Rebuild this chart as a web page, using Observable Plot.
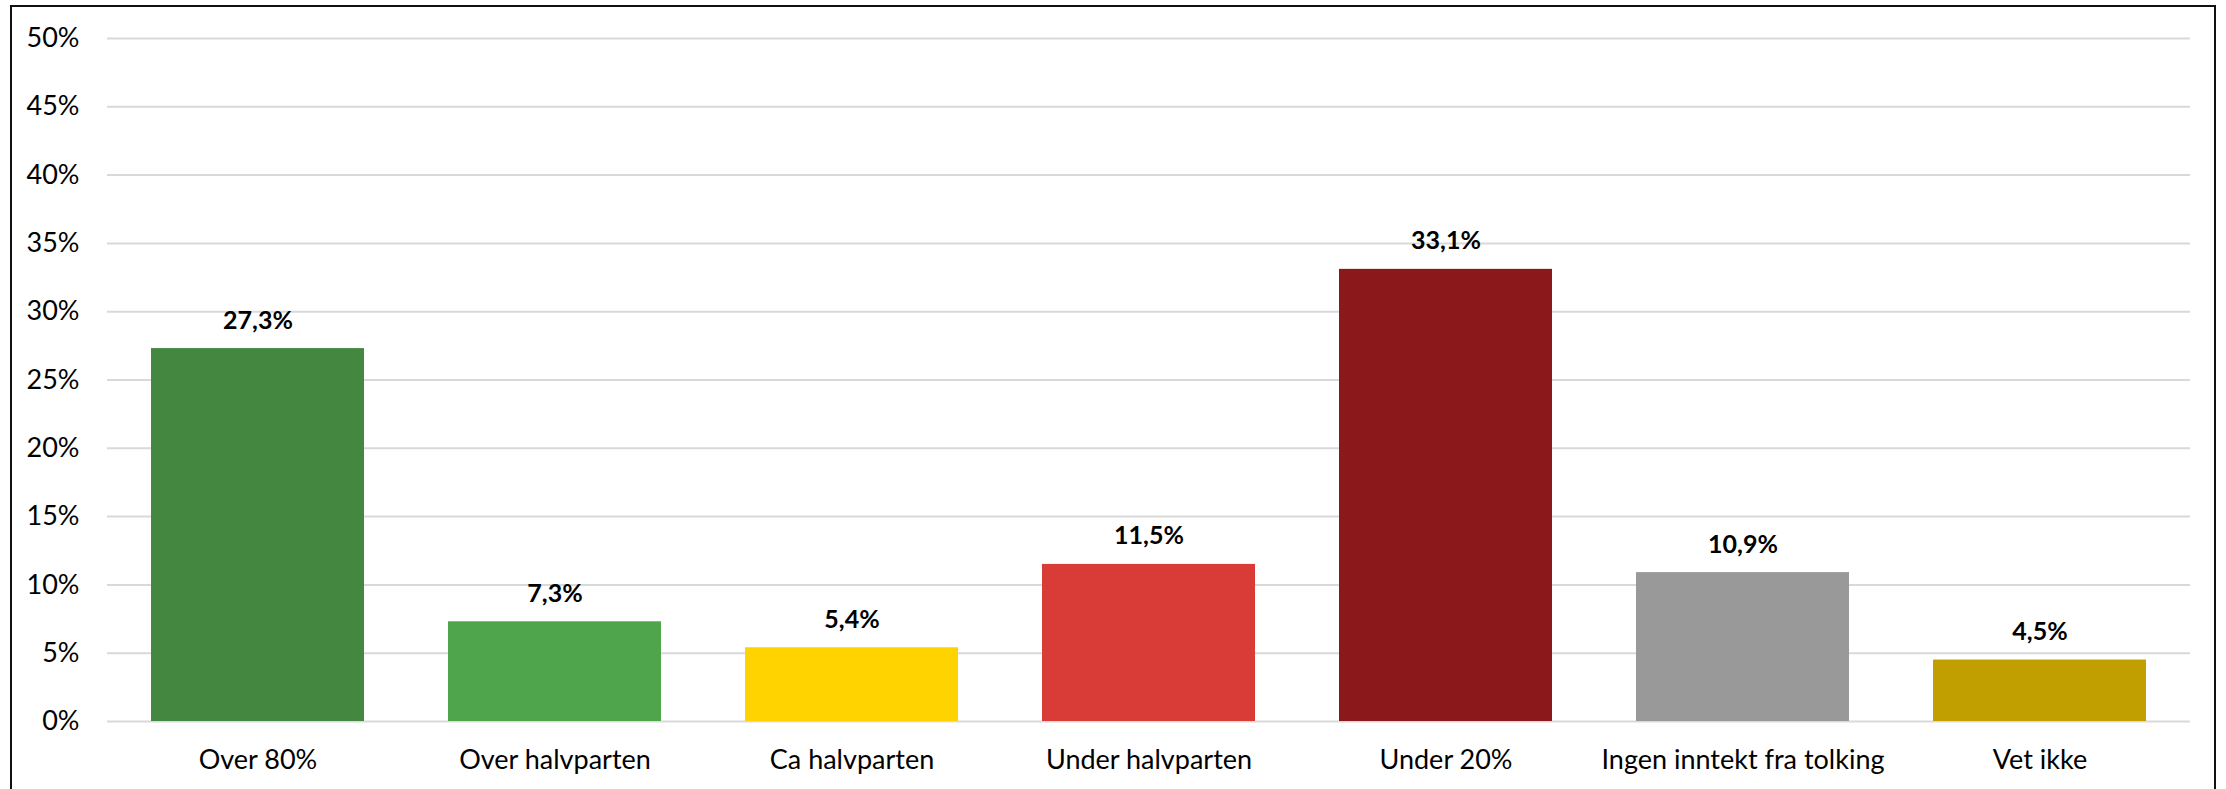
<!DOCTYPE html>
<html>
<head>
<meta charset="utf-8">
<script src="https://cdn.jsdelivr.net/npm/d3@7"></script>
<script src="https://cdn.jsdelivr.net/npm/@observablehq/plot@0.6"></script>
<style>
  html, body { margin: 0; padding: 0; background: #fff; }
  #wrap { position: relative; width: 2226px; height: 789px; overflow: hidden; }
  #frame { position: absolute; left: 10px; top: 5px; width: 2206px; height: 800px; border: 2px solid #111; box-sizing: border-box; pointer-events: none; }
  svg { display: block; }
</style>
</head>
<body>
<div id="wrap"><div id="frame"></div></div>
<script>
const categories = ["Over 80%", "Over halvparten", "Ca halvparten", "Under halvparten", "Under 20%", "Ingen inntekt fra tolking", "Vet ikke"];
const values = [27.3, 7.3, 5.4, 11.5, 33.1, 10.9, 4.5];
const colors = ["#438741", "#4EA54C", "#FFD300", "#D93B36", "#8B181A", "#999999", "#C19F00"];
const yTicks = [0, 5, 10, 15, 20, 25, 30, 35, 40, 45, 50];

const data = categories.map((c, i) => ({category: c, value: values[i], color: colors[i]}));
const fmt = v => v.toFixed(1).replace(".", ",") + "%";

const chart = Plot.plot({
  width: 2226,
  height: 789,
  marginLeft: 107,
  marginRight: 36,
  marginTop: 38,
  marginBottom: 68,
  style: {fontFamily: "Lato, 'Open Sans', sans-serif", fontSize: "27px", color: "#000", background: "transparent"},
  x: {domain: categories, paddingInner: 0.284, paddingOuter: 0.142, label: null, tickSize: 0, tickPadding: 28},
  y: {domain: [0, 50], ticks: yTicks, tickFormat: d => d + "%", label: null, tickSize: 0, tickPadding: 28},
  color: {type: "identity"},
  marks: [
    Plot.ruleY(yTicks, {stroke: "#D9D9D9", strokeWidth: 2}),
    Plot.barY(data, {x: "category", y: "value", fill: "color"}),
    Plot.text(data, {x: "category", y: "value", text: d => fmt(d.value), lineAnchor: "bottom", dy: -20, fontWeight: "bold", fontSize: 25, fill: "#000"})
  ]
});
document.getElementById("wrap").prepend(chart);
</script>
</body>
</html>
